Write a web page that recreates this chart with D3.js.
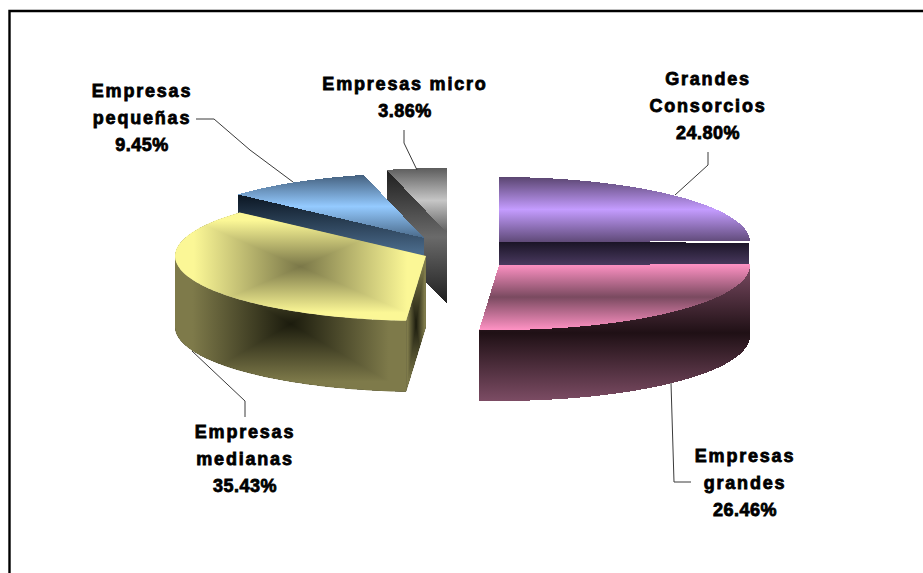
<!DOCTYPE html>
<html><head><meta charset="utf-8">
<script src="https://cdn.jsdelivr.net/npm/d3@7/dist/d3.min.js"></script>
<style>html,body{margin:0;padding:0;background:#fff;overflow:hidden}svg{display:block}</style>
</head><body><svg id="c" width="923" height="573"></svg>
<script>
// ---- data ----
const categories = ["Grandes Consorcios","Empresas grandes","Empresas medianas","Empresas pequeñas","Empresas micro"];
const shares = [24.80,26.46,35.43,9.45,3.86];
const labelLines = [["Grandes","Consorcios"],["Empresas","grandes"],["Empresas","medianas"],["Empresas","pequeñas"],["Empresas micro"]];

// ---- layout / style ----
const W=923,H=573,RX=251,RY=65,DEPTH=71;
const centers=[[499,242],[499,265],[426,256],[424,238],[447,233]];
const labelPos=[[708,84.5],[745,461.5],[245,437.5],[142,97],[405,90]];
const LINE=27;
const leaders=[
 [[708,152],[708,165],[675,195]],
 [[671,383],[674,482],[691,482]],
 [[192,351],[245,401],[245,417]],
 [[196,119],[214,119],[250,150],[293,182]],
 [[404,130],[404,143],[417,170]]
];
const gradStops={
 topV:[
  [[0,"#5a4570"],[.5,"#c49cff"],[1,"#5f4a78"]],
  [[0,"#ff92c4"],[.5,"#7a4a60"],[1,"#ff92c4"]],
  null,
  [[0,"#44607e"],[.5,"#94caff"],[1,"#4a6a8a"]],
  [[0,"#5c5c5c"],[.5,"#c6c6c6"],[1,"#5c5c5c"]]
 ],
 side:[
  [[0,"#1a1426"],[.33,"#4a3a60"],[1,"#4a3a60"]],
  [[0,"#7c4c64"],[.5,"#1f1015"],[1,"#7c4c64"]],
  null,
  [[0,"#0b1622"],[.5,"#4a6a8a"],[1,"#4a6a8a"]],
  [[0,"#1e1e1e"],[.5,"#6a6a6a"],[1,"#1e1e1e"]]
 ]
};
const yellowTop=["#fbf796","#7a7748"], yellowSide=["#7e7a4a","#1b1b0d"];

const svg=d3.select("#c");
const defs=svg.append("defs");
svg.append("rect").attr("width",W).attr("height",H).attr("fill","#fff");

// scales
const sx=d3.scaleLinear().domain([-1,1]).range([-RX,RX]);
const sy=d3.scaleLinear().domain([-1,1]).range([-RY,RY]);
const pie=d3.pie().sort(null).value(d=>d).startAngle(0).endAngle(2*Math.PI);
const arcs=pie(shares);
const line=d3.line();
const pt=(i,a,dz=0)=>[centers[i][0]+sx(Math.sin(a)),centers[i][1]+sy(-Math.cos(a))+dz];
const arcPts=(i,a0,a1,dz=0)=>{const n=Math.max(2,Math.ceil((a1-a0)/0.02));return d3.range(n+1).map(k=>pt(i,a0+(a1-a0)*k/n,dz));};

let uid=0;
function linGrad(stops,attrs){
  const id="g"+(uid++);
  const g=defs.append("linearGradient").attr("id",id);
  Object.entries(attrs).forEach(([k,v])=>g.attr(k,v));
  stops.forEach(s=>g.append("stop").attr("offset",s[0]).attr("stop-color",s[1]));
  return "url(#"+id+")";
}
function vFace(pts,stops){
  const ys=d3.extent(pts,p=>p[1]);
  svg.append("path").attr("d",line(pts)+"Z").attr("shape-rendering","crispEdges")
   .attr("fill",linGrad(stops,{gradientUnits:"userSpaceOnUse",x1:0,x2:0,y1:ys[0],y2:ys[1]}));
}
function boxFace(pts,cols){
  const xs=d3.extent(pts,p=>p[0]),ys=d3.extent(pts,p=>p[1]);
  const cx=(xs[0]+xs[1])/2,cy=(ys[0]+ys[1])/2;
  const id="c"+(uid++);
  defs.append("clipPath").attr("id",id).append("path").attr("d",line(pts)+"Z");
  const g=svg.append("g").attr("clip-path","url(#"+id+")").attr("shape-rendering","crispEdges");
  const st=[[0,cols[0]],[.15,cols[0]],[1,cols[1]]];
  const tl=[xs[0],ys[0]],tr=[xs[1],ys[0]],br=[xs[1],ys[1]],bl=[xs[0],ys[1]],c=[cx,cy];
  const tri=[
   [[tl,tr,c],{x1:0,x2:0,y1:ys[0],y2:cy}],
   [[bl,br,c],{x1:0,x2:0,y1:ys[1],y2:cy}],
   [[tl,bl,c],{x1:xs[0],x2:cx,y1:0,y2:0}],
   [[tr,br,c],{x1:xs[1],x2:cx,y1:0,y2:0}]
  ];
  g.append("path").attr("d",line(pts)+"Z").attr("fill",cols[1]);
  tri.forEach(t=>g.append("path").attr("d",line(t[0])+"Z")
    .attr("fill",linGrad(st,Object.assign({gradientUnits:"userSpaceOnUse"},t[1]))));
}
const topFace=(i,a)=>[[centers[i][0],centers[i][1]],...arcPts(i,a.startAngle,a.endAngle)];
const cutFace=(i,ang)=>{const c=centers[i],e=pt(i,ang);return [c,e,[e[0],e[1]+DEPTH],[c[0],c[1]+DEPTH]];};
const outerFace=(i,a0,a1)=>[...arcPts(i,a0,a1),...arcPts(i,a0,a1,DEPTH).reverse()];

const PI=Math.PI;
// gray: micro
(function(){const i=4,a=arcs[i];
  vFace(cutFace(i,a.startAngle),gradStops.side[i]);
  vFace(topFace(i,a),gradStops.topV[i]);
})();
// blue: pequeñas
(function(){const i=3,a=arcs[i];
  vFace(cutFace(i,a.startAngle),gradStops.side[i]);
  vFace(topFace(i,a),gradStops.topV[i]);
})();
// yellow: medianas
(function(){const i=2,a=arcs[i];
  boxFace(cutFace(i,a.startAngle),yellowSide);
  boxFace(outerFace(i,a.startAngle,1.5*PI),yellowSide);
  boxFace(topFace(i,a),yellowTop);
})();
// purple: consorcios
(function(){const i=0,a=arcs[i];
  const c=centers[i],e=pt(i,a.endAngle);
  vFace([[c[0],c[1]],[e[0]-1,e[1]+1.5],[e[0]-1,e[1]+DEPTH],[c[0],c[1]+DEPTH]],gradStops.side[i]);
  vFace(topFace(i,a),gradStops.topV[i]);
})();
// pink: grandes
(function(){const i=1,a=arcs[i];
  vFace(outerFace(i,PI/2,a.endAngle),gradStops.side[i]);
  vFace(topFace(i,a),gradStops.topV[i]);
})();

// frame
svg.append("path").attr("d",line([[9.5,H+2],[9.5,11],[W+2,11]])).attr("fill","none").attr("stroke","#000").attr("stroke-width",2.4);

// leaders
leaders.forEach(l=>svg.append("path").attr("d",line(l)).attr("fill","none").attr("stroke","#3a3a3a").attr("stroke-width",1));

// labels
const fmt=d3.format(".2f");
categories.forEach((cat,i)=>{
  const t=svg.append("text").attr("text-anchor","middle").attr("aria-label",cat)
    .style("font-family","'Liberation Sans',Arial,sans-serif").style("font-weight","700").style("font-size","18px")
    .attr("fill","#000").attr("stroke","#000").attr("stroke-width",0.8);
  const rows=labelLines[i];
  rows.forEach((r,k)=>t.append("tspan").attr("x",labelPos[i][0]).attr("y",labelPos[i][1]+k*LINE)
     .style("letter-spacing","1.8px").text(r));
  t.append("tspan").attr("x",labelPos[i][0]).attr("y",labelPos[i][1]+rows.length*LINE)
     .style("letter-spacing","0.5px").text(fmt(shares[i])+"%");
});
</script></body></html>
